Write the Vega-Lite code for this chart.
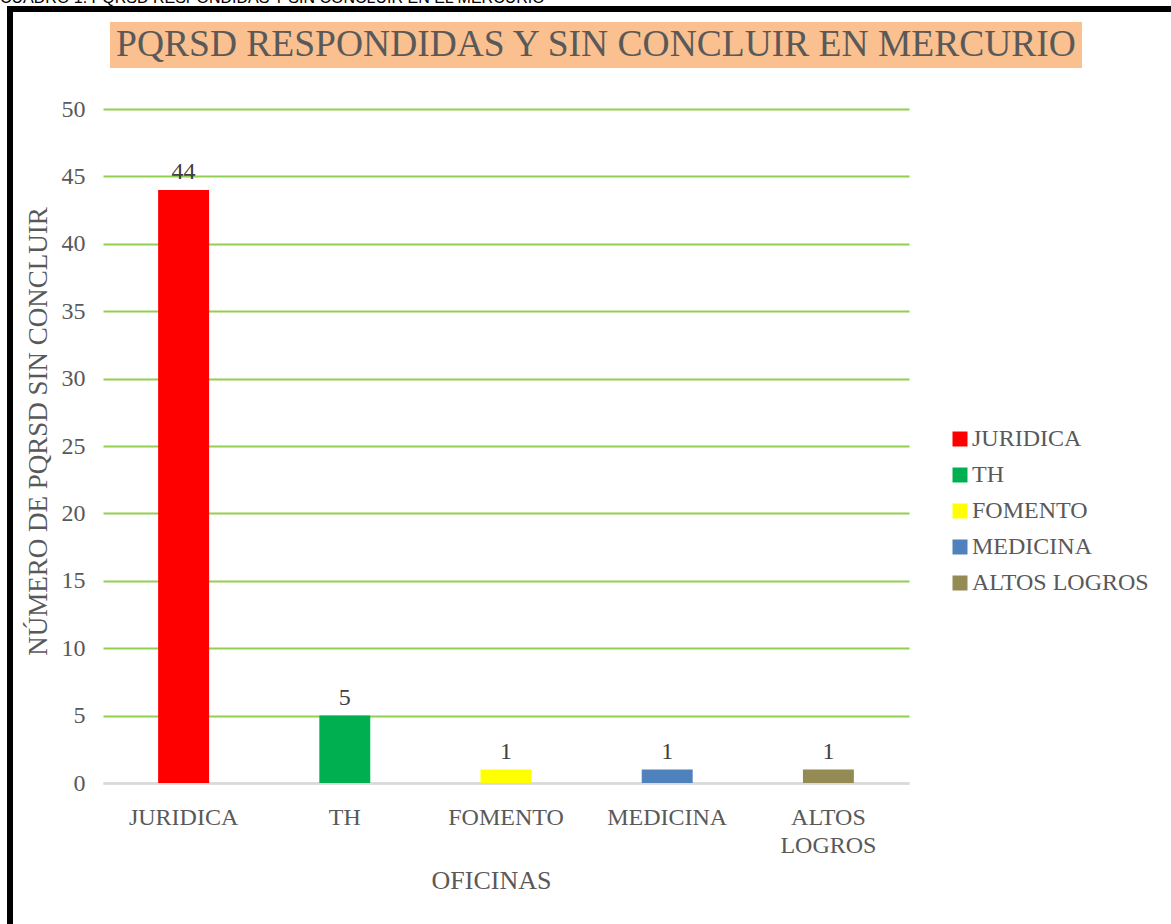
{
  "$schema": "https://vega.github.io/schema/vega-lite/v6.json",
  "background": "white",
  "padding": 0,
  "spacing": 0,
  "bounds": "flush",
  "config": {"view": {"stroke": null}, "font": "Liberation Serif"},
  "vconcat": [
    {
      "width": 1171,
      "height": 6,
      "data": {"values": [{"texto": "CUADRO 1. PQRSD RESPONDIDAS Y SIN CONCLUIR EN EL MERCURIO"}]},
      "mark": {"type": "text", "clip": true, "align": "left", "baseline": "alphabetic", "font": "Liberation Sans", "fontSize": 16, "color": "black", "dy": -2.7},
      "encoding": {"text": {"field": "texto"}, "x": {"value": 0}, "y": {"value": "height"}}
    },
    {
      "spacing": 0,
      "bounds": "flush",
      "hconcat": [
        {"width": 7, "height": 1, "data": {"values": []}, "mark": {"type": "point", "opacity": 0}},
        {"width": 6, "height": 918, "view": {"fill": "black"}, "data": {"values": []}, "mark": {"type": "point", "opacity": 0}},
        {
          "spacing": 0,
          "bounds": "flush",
          "vconcat": [
            {"width": 1158, "height": 6, "view": {"fill": "black"}, "data": {"values": []}, "mark": {"type": "point", "opacity": 0}},
            {"width": 1, "height": 10, "data": {"values": []}, "mark": {"type": "point", "opacity": 0}},
            {
              "spacing": 0,
              "bounds": "flush",
              "hconcat": [
                {"width": 97, "height": 1, "data": {"values": []}, "mark": {"type": "point", "opacity": 0}},
                {
                  "width": 972,
                  "height": 46,
                  "view": {"fill": "#FAC08F"},
                  "data": {"values": [{"titulo": "PQRSD RESPONDIDAS Y SIN CONCLUIR EN MERCURIO"}]},
                  "mark": {"type": "text", "fontSize": 37.5, "color": "#595959", "baseline": "alphabetic", "dy": 10.5},
                  "encoding": {"text": {"field": "titulo"}}
                }
              ]
            },
            {"width": 1, "height": 87, "data": {"values": []}, "mark": {"type": "point", "opacity": 0}},
            {
              "spacing": 0,
              "bounds": "flush",
              "hconcat": [
                {"width": 90, "height": 1, "data": {"values": []}, "mark": {"type": "point", "opacity": 0}},
                {
                  "width": 806,
                  "height": 674,
                  "data": {"values": [
                    {"oficina": "JURIDICA", "pqrsd": 44},
                    {"oficina": "TH", "pqrsd": 5},
                    {"oficina": "FOMENTO", "pqrsd": 1},
                    {"oficina": "MEDICINA", "pqrsd": 1},
                    {"oficina": "ALTOS LOGROS", "pqrsd": 1}
                  ]},
                  "encoding": {
                    "x": {
                      "field": "oficina", "type": "nominal", "sort": null,
                      "scale": {"paddingInner": 0.684, "paddingOuter": 0.342},
                      "axis": {
                        "title": "OFICINAS", "labelAngle": 0, "labelFontSize": 24, "labelColor": "#595959",
                        "labelPadding": 22, "labelLineHeight": 28, "labelExpr": "split(datum.label, ' ')",
                        "ticks": false, "domainColor": "#D9D9D9", "domainWidth": 2.5, "grid": false,
                        "titleFontSize": 26, "titleColor": "#595959", "titleFontWeight": "normal",
                        "titlePadding": 10, "titleX": 388
                      }
                    },
                    "y": {
                      "field": "pqrsd", "type": "quantitative",
                      "scale": {"domain": [0, 50]},
                      "axis": {
                        "title": "NÚMERO DE PQRSD SIN CONCLUIR",
                        "values": [0, 5, 10, 15, 20, 25, 30, 35, 40, 45, 50],
                        "labelFontSize": 24, "labelColor": "#595959", "labelPadding": 18,
                        "ticks": false, "domain": false,
                        "gridColor": {"condition": {"test": "datum.value === 0", "value": "#D9D9D9"}, "value": "#92D050"},
                        "gridWidth": 2,
                        "titleFontSize": 27, "titleColor": "#595959", "titleFontWeight": "normal",
                        "titlePadding": 9, "titleY": 322
                      }
                    }
                  },
                  "layer": [
                    {
                      "mark": {"type": "bar"},
                      "encoding": {
                        "color": {
                          "field": "oficina", "type": "nominal",
                          "scale": {
                            "domain": ["JURIDICA", "TH", "FOMENTO", "MEDICINA", "ALTOS LOGROS"],
                            "range": ["#FF0000", "#00B050", "#FFFF00", "#4F81BD", "#948A54"]
                          },
                          "legend": {
                            "title": null, "orient": "none", "legendX": 948, "legendY": 427,
                            "symbolType": "square", "symbolSize": 225, "symbolStrokeWidth": 0,
                            "labelFontSize": 24, "labelColor": "#595959", "labelOffset": 0, "labelLimit": 400,
                            "rowPadding": 12, "padding": 0, "labelFont": "Liberation Serif"
                          }
                        }
                      }
                    },
                    {
                      "mark": {"type": "text", "baseline": "alphabetic", "dy": -11, "fontSize": 24, "color": "#404040"},
                      "encoding": {"text": {"field": "pqrsd"}}
                    }
                  ]
                }
              ]
            }
          ]
        }
      ]
    }
  ]
}
